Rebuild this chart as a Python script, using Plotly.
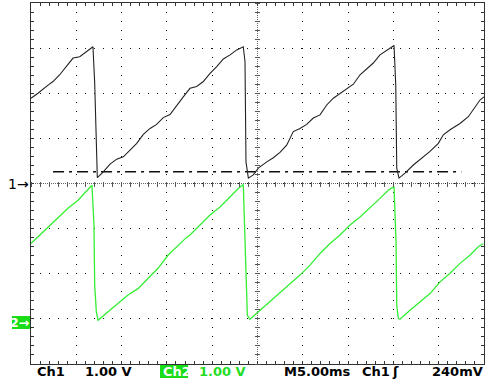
import plotly.graph_objects as go

# ---- data ----
# Channel 1 (black): time in ms, voltage in V (1.00 V/div, ground at centre)
CH1_T = [0.00, 0.77, 1.88, 2.43, 3.17, 4.08, 4.64, 5.38, 6.10, 6.84,
         7.03, 7.21, 7.32, 7.98, 8.72, 9.46, 10.19, 10.93, 11.67, 12.40,
         13.14, 13.87, 14.60, 15.34, 16.08, 16.81, 17.55, 18.29, 19.02, 19.76,
         20.50, 21.23, 21.97, 22.71, 23.43, 23.62, 23.73, 23.99, 24.54, 25.09,
         26.02, 26.75, 27.48, 28.22, 28.95, 29.69, 30.43, 31.16, 31.90, 32.64,
         33.37, 34.11, 34.85, 35.58, 36.32, 37.05, 37.78, 38.52, 39.26, 40.07,
         40.26, 40.37, 40.62, 41.28, 42.20, 43.30, 44.04, 44.96, 45.51, 46.25,
         47.35, 48.27, 49.01, 49.56, 50.00]
CH1_V = [1.89, 2.00, 2.18, 2.26, 2.41, 2.63, 2.78, 2.81, 2.92, 3.03,
         2.23, 0.85, 0.13, 0.26, 0.43, 0.54, 0.59, 0.74, 0.89, 1.09,
         1.22, 1.31, 1.46, 1.53, 1.74, 1.92, 2.11, 2.15, 2.26, 2.44,
         2.59, 2.76, 2.85, 2.96, 3.03, 2.70, 0.48, 0.12, 0.19, 0.34,
         0.48, 0.57, 0.69, 0.85, 1.15, 1.22, 1.31, 1.45, 1.52, 1.74,
         1.89, 2.00, 2.11, 2.20, 2.41, 2.55, 2.67, 2.85, 2.96, 3.06,
         2.18, 0.34, 0.12, 0.23, 0.41, 0.59, 0.71, 0.89, 1.08, 1.19,
         1.33, 1.48, 1.70, 1.85, 1.92]

# Channel 2 (green): time in ms, voltage in V (1.00 V/div)
CH2_T = [0.00, 0.77, 1.88, 2.98, 4.08, 5.19, 6.10, 6.73, 6.95, 7.03,
         7.21, 7.40, 8.50, 9.60, 10.71, 11.81, 12.92, 14.02, 15.12, 16.23,
         17.14, 17.55, 18.65, 19.76, 20.86, 21.97, 22.88, 23.43, 23.62, 23.73,
         23.88, 24.17, 25.28, 26.38, 27.48, 28.59, 29.69, 30.80, 31.90, 33.00,
         34.11, 35.21, 36.32, 37.42, 38.52, 39.44, 40.07, 40.29, 40.37, 40.54,
         40.73, 41.83, 42.94, 44.04, 45.15, 46.25, 47.35, 48.45, 49.37, 49.93]
CH2_V = [1.67, 1.82, 2.02, 2.23, 2.45, 2.63, 2.82, 2.96, 2.08, 0.75,
         0.16, -0.03, 0.16, 0.34, 0.53, 0.67, 0.90, 1.12, 1.41, 1.63,
         1.80, 1.86, 2.08, 2.30, 2.48, 2.71, 2.89, 2.98, 1.86, 0.75,
         0.08, -0.01, 0.19, 0.38, 0.60, 0.78, 0.97, 1.19, 1.45, 1.67,
         1.86, 2.08, 2.26, 2.46, 2.67, 2.85, 2.93, 1.71, 0.30, 0.01,
         -0.01, 0.19, 0.38, 0.56, 0.82, 1.01, 1.23, 1.41, 1.60, 1.67]

TRIG_T = [2.43, 47.5]      # extent of trigger level marker (ms)
TRIG_LEVEL = 0.26          # V (read as drawn, readout 240mV)

CH1_POS = 0.0   # divisions
CH2_POS = -3.0  # divisions

READOUT = [
    ("Ch1", 35, "#000000"),
    ("1.00 V", 83, "#000000"),
    ("Ch2", 161, "#ffffff"),
    ("1.00 V", 197, "#22dd22"),
    ("M5.00ms", 282, "#000000"),
    ("Ch1", 360, "#000000"),
    ("\u0283", 390, "#000000"),
    ("240mV", 430, "#000000"),
]

# ---- layout geometry (pixels) ----
W, H = 485, 381
L, R, T, B = 31, 1, 3, 17
PW = W - L - R
PH = H - T - B

GREEN = "#33ee33"
BOXGREEN = "#18dd18"
GRID = "#111111"


def px_x(p):
    return (p - L) / PW


def px_y(p):
    return (H - B - p) / PH


fig = go.Figure()

fig.add_trace(go.Scatter(x=TRIG_T, y=[TRIG_LEVEL + CH1_POS] * 2, mode="lines",
                         line=dict(color="#111111", width=1.3, dash="11px,5px,3px,5px"),
                         hoverinfo="skip"))
fig.add_trace(go.Scatter(x=CH1_T, y=[v + CH1_POS for v in CH1_V], mode="lines",
                         line=dict(color="#222222", width=1.1), hoverinfo="skip"))
fig.add_trace(go.Scatter(x=CH2_T, y=[v + CH2_POS for v in CH2_V], mode="lines",
                         line=dict(color=GREEN, width=1.3), hoverinfo="skip"))
# invisible helpers to make overlay axes active
for xa, ya in [("x2", "y2"), ("x3", "y3")]:
    fig.add_trace(go.Scatter(x=[0], y=[0], xaxis=xa, yaxis=ya, mode="markers",
                             marker=dict(opacity=0), hoverinfo="skip"))

common = dict(showticklabels=False, zeroline=False, fixedrange=True)

fig.update_layout(
    width=W, height=H, autosize=False,
    margin=dict(l=L, r=R, t=T, b=B, pad=0),
    paper_bgcolor="white", plot_bgcolor="white",
    showlegend=False,
    # dotted graticule on the main axes
    xaxis=dict(range=[0, 50], dtick=5, tick0=0, showgrid=True, griddash="1px,8px",
               gridcolor=GRID, gridwidth=1, ticks="", showline=True, mirror=True,
               linecolor="#333333", linewidth=1, **common),
    yaxis=dict(range=[-4, 4], dtick=1, tick0=0, showgrid=True, griddash="1px,8px",
               gridcolor=GRID, gridwidth=1, ticks="", showline=True, mirror=True,
               linecolor="#333333", linewidth=1, **common),
    # border with small inside ticks every 1/5 division
    xaxis2=dict(range=[0, 50], dtick=1, tick0=0, overlaying="x", anchor="y2",
                ticks="inside", ticklen=3, tickcolor="#333333", mirror="ticks",
                showline=False, showgrid=False, **common),
    yaxis2=dict(range=[-4, 4], dtick=0.2, tick0=0, overlaying="y", anchor="x2",
                ticks="inside", ticklen=3, tickcolor="#333333", mirror="ticks",
                showline=False, showgrid=False, **common),
    # centre crosshair ticks
    xaxis3=dict(range=[0, 50], dtick=1, tick0=0, overlaying="x", anchor="free",
                position=0.5 + 2.5 / PH, ticks="outside", ticklen=5, tickcolor="#555555",
                showline=False, showgrid=False, **common),
    yaxis3=dict(range=[-4, 4], dtick=0.2, tick0=0, overlaying="y", anchor="free",
                position=0.5 + 2.5 / PW, ticks="outside", ticklen=5, tickcolor="#555555",
                showline=False, showgrid=False, **common),
)

# dense dotted centre lines
fig.add_shape(type="line", xref="x", yref="y", x0=0, x1=50, y0=0, y1=0,
              line=dict(color="#666666", width=1, dash="1px,1px"), layer="below")
fig.add_shape(type="line", xref="x", yref="y", x0=25, x1=25, y0=-4, y1=4,
              line=dict(color="#666666", width=1, dash="1px,1px"), layer="below")

# Ch2 readout highlight and ground marker box
fig.add_shape(type="rect", xref="paper", yref="paper",
              x0=px_x(160), x1=px_x(188), y0=px_y(378), y1=px_y(365),
              fillcolor=BOXGREEN, line=dict(width=0), layer="below")
fig.add_shape(type="rect", xref="paper", yref="paper",
              x0=px_x(12), x1=px_x(30), y0=px_y(329), y1=px_y(316),
              fillcolor=BOXGREEN, line=dict(width=0), layer="below")

FONT = "DejaVu Sans"
for txt, left, col in READOUT:
    fig.add_annotation(text="<b>%s</b>" % txt, xref="paper", yref="paper",
                       x=px_x(left), y=px_y(371.5), xanchor="left", yanchor="middle",
                       showarrow=False, font=dict(family=FONT, size=13, color=col))

fig.add_annotation(text="1\u2192", xref="paper", yref="y", x=px_x(31), y=CH1_POS,
                   xanchor="right", yanchor="middle", showarrow=False,
                   font=dict(family=FONT, size=14, color="#000000"))
fig.add_annotation(text="<b>2\u2192</b>", xref="paper", yref="y", x=px_x(30.5), y=CH2_POS - 0.08,
                   xanchor="right", yanchor="middle", showarrow=False,
                   font=dict(family=FONT, size=12.5, color="#ffffff"))

fig.write_html("out.html", config={"displayModeBar": False, "staticPlot": True},
               post_script="document.body.style.margin='0';"
                           "document.body.style.overflow='hidden';")
